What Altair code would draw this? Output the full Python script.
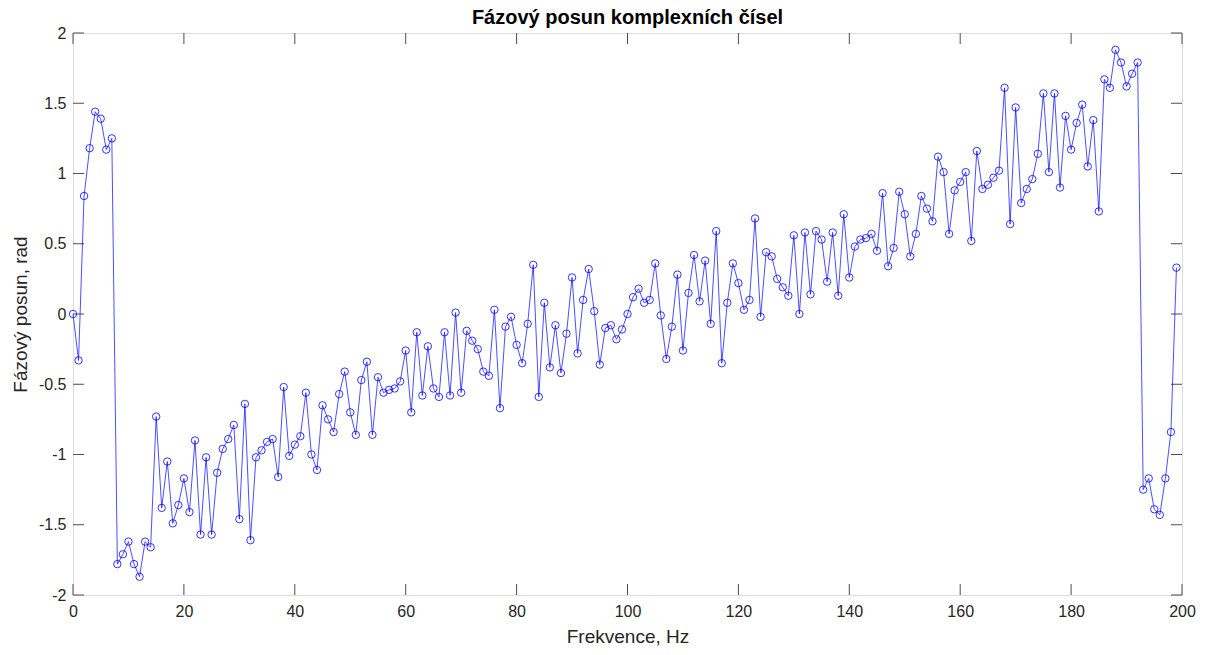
import altair as alt
import pandas as pd

# Phase of the complex spectrum, one value per frequency bin (0..199 Hz)
freq = list(range(200))
phase = [
    0.00, -0.33, 0.84, 1.18, 1.44, 1.39, 1.17, 1.25, -1.78, -1.71,
    -1.62, -1.78, -1.87, -1.62, -1.66, -0.73, -1.38, -1.05, -1.49, -1.36,
    -1.17, -1.41, -0.90, -1.57, -1.02, -1.57, -1.13, -0.96, -0.89, -0.79,
    -1.46, -0.64, -1.61, -1.02, -0.97, -0.91, -0.89, -1.16, -0.52, -1.01,
    -0.93, -0.87, -0.56, -1.00, -1.11, -0.65, -0.75, -0.84, -0.57, -0.41,
    -0.70, -0.86, -0.47, -0.34, -0.86, -0.45, -0.56, -0.54, -0.53, -0.48,
    -0.26, -0.70, -0.13, -0.58, -0.23, -0.53, -0.59, -0.13, -0.58, 0.01,
    -0.56, -0.12, -0.19, -0.25, -0.41, -0.44, 0.03, -0.67, -0.09, -0.02,
    -0.22, -0.35, -0.07, 0.35, -0.59, 0.08, -0.38, -0.08, -0.42, -0.14,
    0.26, -0.28, 0.10, 0.32, 0.02, -0.36, -0.10, -0.08, -0.18, -0.11,
    0.00, 0.12, 0.18, 0.08, 0.10, 0.36, -0.01, -0.32, -0.09, 0.28,
    -0.26, 0.15, 0.42, 0.09, 0.38, -0.07, 0.59, -0.35, 0.08, 0.36,
    0.22, 0.03, 0.10, 0.68, -0.02, 0.44, 0.41, 0.25, 0.19, 0.13,
    0.56, 0.00, 0.58, 0.14, 0.59, 0.53, 0.23, 0.58, 0.13, 0.71,
    0.26, 0.48, 0.53, 0.54, 0.57, 0.45, 0.86, 0.34, 0.47, 0.87,
    0.71, 0.41, 0.57, 0.84, 0.75, 0.66, 1.12, 1.01, 0.57, 0.88,
    0.94, 1.01, 0.52, 1.16, 0.89, 0.92, 0.97, 1.02, 1.61, 0.64,
    1.47, 0.79, 0.89, 0.96, 1.14, 1.57, 1.01, 1.57, 0.90, 1.41,
    1.17, 1.36, 1.49, 1.05, 1.38, 0.73, 1.67, 1.61, 1.88, 1.79,
    1.62, 1.71, 1.79, -1.25, -1.17, -1.39, -1.43, -1.17, -0.84, 0.33,
]

x_ticks = [0, 20, 40, 60, 80, 100, 120, 140, 160, 180, 200]
y_ticks = [-2, -1.5, -1, -0.5, 0, 0.5, 1, 1.5, 2]

W, H = 1109, 562
TICK = 11
FONT = "Liberation Sans"
TEXT = "#262626"
BLUE = "#0000ff"

df = pd.DataFrame({"f": freq, "phi": phase})
xt = pd.DataFrame({"f": x_ticks})
yt = pd.DataFrame({"phi": y_ticks})

x_scale = alt.Scale(domain=[0, 200], nice=False, zero=False)
y_scale = alt.Scale(domain=[-2, 2], nice=False, zero=False)

x_axis = alt.Axis(
    values=x_ticks, labelExpr="datum.value + ''", domain=False, ticks=False,
    grid=False, labelFlush=False, labelOverlap=False, labelFontSize=16,
    labelColor=TEXT, labelFont=FONT, labelPadding=8, title="Frekvence, Hz",
    titleFontSize=19, titleFontWeight="normal", titleColor=TEXT,
    titleFont=FONT, titlePadding=8,
)
y_axis = alt.Axis(
    values=y_ticks, labelExpr="datum.value + ''", domain=False, ticks=False,
    grid=False, labelFlush=False, labelOverlap=False, labelFontSize=16,
    labelColor=TEXT, labelFont=FONT, labelPadding=7, title="Fázový posun, rad",
    titleFontSize=19, titleFontWeight="normal", titleColor=TEXT,
    titleFont=FONT, titlePadding=8,
)

X = alt.X("f:Q", scale=x_scale, axis=x_axis)
Y = alt.Y("phi:Q", scale=y_scale, axis=y_axis)

# inward tick marks on all four sides of the box
tick_style = dict(color="#4d4d4d", strokeWidth=1)
x_bottom = alt.Chart(xt).mark_rule(**tick_style).encode(
    x=X, y=alt.value(H), y2=alt.value(H - TICK))
x_top = alt.Chart(xt).mark_rule(**tick_style).encode(
    x=X, y=alt.value(0), y2=alt.value(TICK))
y_left = alt.Chart(yt).mark_rule(**tick_style).encode(
    y=Y, x=alt.value(0), x2=alt.value(TICK))
y_right = alt.Chart(yt).mark_rule(**tick_style).encode(
    y=Y, x=alt.value(W), x2=alt.value(W - TICK))

line = alt.Chart(df).mark_line(color=BLUE, strokeWidth=0.7).encode(x=X, y=Y)
points = alt.Chart(df).mark_point(
    shape="circle", filled=False, color=BLUE, size=55, strokeWidth=0.8, opacity=1
).encode(x=X, y=Y)

chart = alt.layer(x_bottom, x_top, y_left, y_right, line, points).properties(
    width=W,
    height=H,
    title=alt.TitleParams(
        "Fázový posun komplexních čísel", fontSize=20, fontWeight="bold",
        font=FONT, color="#000000", anchor="middle", offset=7, dy=10,
    ),
    autosize=alt.AutoSizeParams(type="none"),
    padding={"left": 73, "top": 33, "right": 32, "bottom": 60},
).configure_view(
    stroke="#a6a6a6", strokeWidth=1
).configure(background="white")

chart.save("out.html", embed_options={"renderer": "svg", "actions": False})
